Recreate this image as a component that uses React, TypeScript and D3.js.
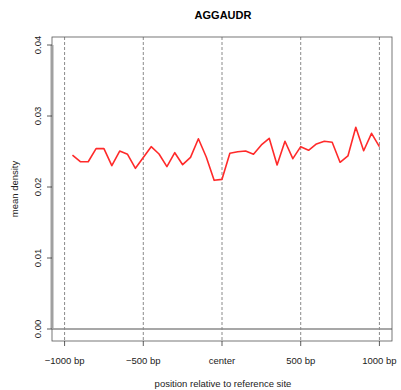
import React, { useEffect, useRef } from "react";
import * as d3 from "d3";

// positions (bp) of the profile bins
const positions = d3.range(-950, 1001, 50);

// mean density at each bin
const density = [
  0.0245, 0.02356, 0.02356, 0.0254, 0.0254, 0.023, 0.02507, 0.02461, 0.02263, 0.02415,
  0.02568, 0.02465, 0.02286, 0.02483, 0.02314, 0.02418, 0.0268, 0.02423, 0.02094, 0.02108,
  0.02475, 0.02497, 0.02507, 0.02461, 0.02592, 0.02686, 0.0231, 0.02644, 0.02399, 0.02568,
  0.02517, 0.02606, 0.02644, 0.0263, 0.02348, 0.02437, 0.02841, 0.02511, 0.02756, 0.02568,
];

const xTicks = [-1000, -500, 0, 500, 1000];
const xTickLabels = ["\u22121000 bp", "\u2212500 bp", "center", "500 bp", "1000 bp"];
const yTicks = [0, 0.01, 0.02, 0.03, 0.04];

const App = () => {
  const svgRef = useRef(null);
  const width = 401;
  const height = 390;

  useEffect(() => {
    const svg = d3.select(svgRef.current);
    svg.selectAll("*").remove();

    const box = { left: 52, right: 392, top: 37, bottom: 341 };
    const font = "Liberation Sans, Arial, sans-serif";

    const x = d3.scaleLinear().domain([-1080, 1080]).range([box.left, box.right]);
    const y = d3.scaleLinear().domain([0, 0.04]).range([329, 45]);

    // title
    svg.append("text")
      .attr("x", 223)
      .attr("y", 19)
      .attr("text-anchor", "middle")
      .attr("font-family", font)
      .attr("font-weight", "bold")
      .attr("font-size", 11)
      .text("AGGAUDR");

    // dashed verticals at ticks
    svg.append("g")
      .selectAll("line")
      .data(xTicks)
      .join("line")
      .attr("x1", (d) => x(d))
      .attr("x2", (d) => x(d))
      .attr("y1", box.top)
      .attr("y2", box.bottom)
      .attr("stroke", "#8a8a8a")
      .attr("stroke-width", 1)
      .attr("stroke-dasharray", "3,2");

    // zero line
    svg.append("line")
      .attr("x1", box.left)
      .attr("x2", box.right)
      .attr("y1", y(0))
      .attr("y2", y(0))
      .attr("stroke", "#8a8a8a")
      .attr("stroke-width", 1.5);

    // box
    svg.append("rect")
      .attr("x", box.left)
      .attr("y", box.top)
      .attr("width", box.right - box.left)
      .attr("height", box.bottom - box.top)
      .attr("fill", "none")
      .attr("stroke", "#555")
      .attr("stroke-width", 0.8);

    // y axis
    const yAxis = svg.append("g").attr("transform", `translate(${box.left},0)`);
    yAxis.append("line")
      .attr("x1", 0)
      .attr("x2", 0)
      .attr("y1", y(0))
      .attr("y2", y(0.04))
      .attr("stroke", "#a0a0a0")
      .attr("stroke-width", 3);
    yAxis.selectAll("line.tick")
      .data(yTicks)
      .join("line")
      .attr("class", "tick")
      .attr("x1", -5)
      .attr("x2", 0)
      .attr("y1", (d) => y(d))
      .attr("y2", (d) => y(d))
      .attr("stroke", "#333")
      .attr("stroke-width", 0.8);
    yAxis.selectAll("text")
      .data(yTicks)
      .join("text")
      .attr("transform", (d) => `translate(-11,${y(d)}) rotate(-90)`)
      .attr("text-anchor", "middle")
      .attr("font-family", font)
      .attr("font-size", 9.5)
      .attr("fill", "#222")
      .text((d) => d3.format(".2f")(d));

    // x axis ticks
    const xAxis = svg.append("g").attr("transform", `translate(0,${box.bottom})`);
    xAxis.selectAll("line")
      .data(xTicks)
      .join("line")
      .attr("x1", (d) => x(d))
      .attr("x2", (d) => x(d))
      .attr("y1", 0)
      .attr("y2", 5)
      .attr("stroke", "#333")
      .attr("stroke-width", 0.8);
    xAxis.selectAll("text")
      .data(xTicks)
      .join("text")
      .attr("x", (d) => x(d))
      .attr("y", 23)
      .attr("text-anchor", "middle")
      .attr("font-family", font)
      .attr("font-size", 9.5)
      .attr("fill", "#222")
      .text((d, i) => xTickLabels[i]);

    // axis titles
    svg.append("text")
      .attr("x", 223)
      .attr("y", 387)
      .attr("text-anchor", "middle")
      .attr("font-family", font)
      .attr("font-size", 9.5)
      .attr("fill", "#222")
      .text("position relative to reference site");
    svg.append("text")
      .attr("transform", `translate(18,${(box.top + box.bottom) / 2}) rotate(-90)`)
      .attr("text-anchor", "middle")
      .attr("font-family", font)
      .attr("font-size", 9.5)
      .attr("fill", "#222")
      .text("mean density");

    // density line
    const line = d3.line<number>()
      .x((d, i) => x(positions[i]))
      .y((d) => y(d));
    svg.append("path")
      .datum(density)
      .attr("d", line)
      .attr("fill", "none")
      .attr("stroke", "#ff2a2a")
      .attr("stroke-width", 1.6)
      .attr("stroke-linejoin", "round");
  }, []);

  return (
    <svg
      ref={svgRef}
      width={width}
      height={height}
      style={{ position: "absolute", left: 0, top: 0 }}
    ></svg>
  );
};

export default App;
